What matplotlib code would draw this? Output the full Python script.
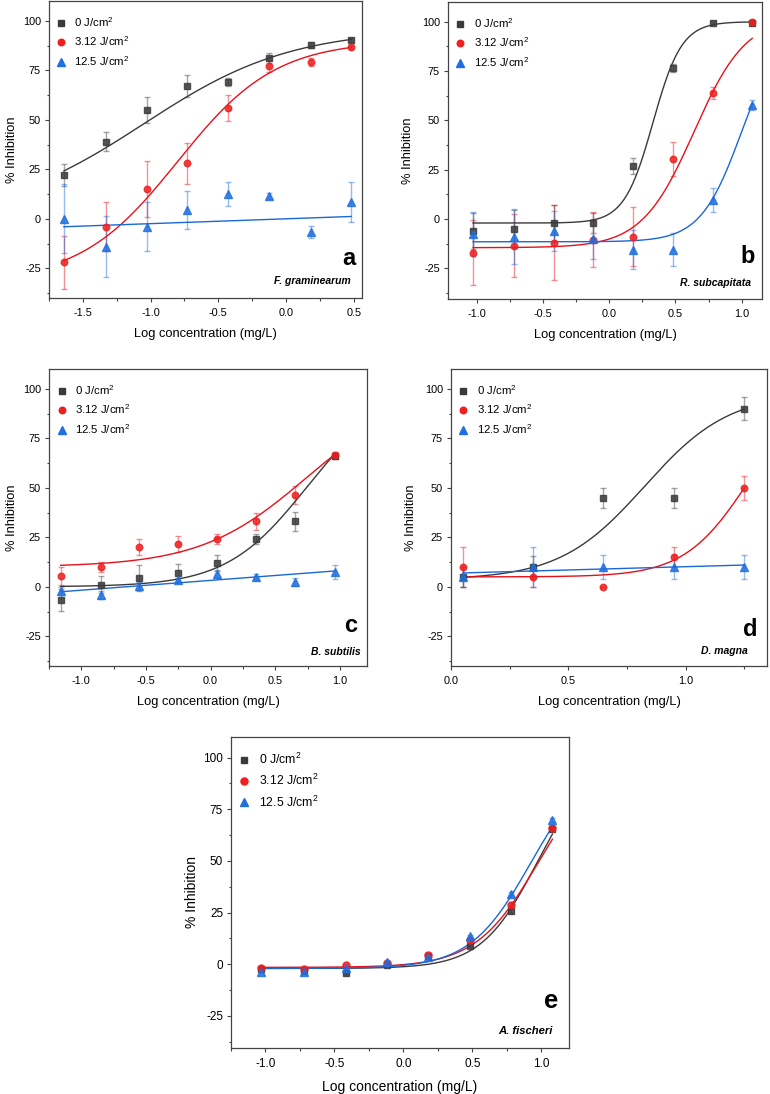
import numpy as np
import matplotlib
matplotlib.use('Agg')
import matplotlib.pyplot as plt
from matplotlib.lines import Line2D
from matplotlib.ticker import MultipleLocator

plt.rcParams['font.family'] = ['Liberation Sans', 'DejaVu Sans']
plt.rcParams['mathtext.default'] = 'regular'

# legend labels / series styles
doses = ['0 J/cm$^2$', '3.12 J/cm$^2$', '12.5 J/cm$^2$']
markers = ['s', 'o', '^']
msizes = [3.9, 4.7, 5.1]
mcolors = ['#3a3a3a', '#ee1f1f', '#1f6fe0']
lcolors = ['#3a3a3a', '#e8101a', '#1a68d8']

# ---- panel a: F. graminearum
x_a = [-1.64, -1.33, -1.03, -0.73, -0.43, -0.13, 0.18, 0.48]
y_a = [[22, 39, 55, 67, 69, 81, 88, 90.5],
       [-22, -4, 15, 28, 56, 77, 79, 87],
       [0, -14, -4, 4.5, 12.5, 11.5, -6.5, 8.5]]
e_a = [[5.5, 5, 6.5, 5.5, 2, 2.5, 1.5, 1],
       [13.5, 12.5, 14, 10.5, 6.5, 3, 2, 1],
       [17.5, 15.5, 12.5, 9.5, 6, 1.5, 3, 10]]
# fitted curves: ('sig', [bottom, top, logEC50, hill]) or ('lin', [intercept, slope])
fit_a = [('sig', [0, 96, -1.05, 0.8]), ('sig', [-32, 90, -0.8, 1.2]), ('lin', [0.0, 2.45])]

# ---- panel b: R. subcapitata
x_b = [-1.03, -0.72, -0.42, -0.12, 0.18, 0.48, 0.78, 1.08]
y_b = [[-6, -5, -2, -2, 27, 76.5, 99.5, 99.5],
       [-17, -13.5, -12, -10.5, -9, 30.5, 64, 100],
       [-7.5, -9, -6, -10, -15.5, -15.5, 9.5, 58]]
e_b = [[9, 9.5, 9, 5, 4, 2, 0.5, 1],
       [16.5, 16, 19, 14, 15, 8.5, 3, 1],
       [11, 14, 10, 10, 10, 8.5, 6, 2.5]]
fit_b = [('sig', [-2, 100, 0.33, 4.0]), ('sig', [-14.5, 103, 0.64, 2.2]), ('sig', [-11.5, 100, 1.0, 2.8])]

# ---- panel c: B. subtilis
x_c = [-1.16, -0.85, -0.55, -0.25, 0.05, 0.35, 0.65, 0.96]
y_c = [[-6.5, 1, 4.5, 7, 12, 24, 33, 66],
       [5.5, 10, 20, 21.5, 24, 33, 46.5, 66.5],
       [-2, -4, 0.5, 3.5, 6.5, 5, 2.5, 7.5]]
e_c = [[5.5, 4.3, 6.5, 4.5, 4, 2.5, 5, 1.5],
       [4.7, 2.5, 4, 4, 2.5, 4.5, 4.5, 1.5],
       [2, 2, 2, 1, 2, 1.5, 2, 3.5]]
fit_c = [('sig', [0, 100, 0.74, 1.4]), ('sig', [10, 100, 0.74, 1.06]), ('lin', [3.24, 4.95])]

# ---- panel d: D. magna
x_d = [0.05, 0.35, 0.65, 0.95, 1.25]
y_d = [[5, 10, 45, 45, 90],
       [10, 5, 0, 15, 50],
       [5, 10, 10, 10, 10]]
e_d = [[5, 5.5, 5, 5, 6],
       [10, 5, 0, 5, 6],
       [5, 10, 6, 6, 6]]
fit_d = [('sig', [3.5, 98, 0.825, 2.4]), ('sig', [5, 100, 1.265, 3.2]), ('lin', [6.83, 3.33])]

# ---- panel e: A. fischeri
x_e = [-1.03, -0.72, -0.42, -0.12, 0.18, 0.48, 0.78, 1.08]
y_e = [[-2.5, -3, -4, -0.5, 4, 9, 26, 65.5],
       [-2, -2.5, -0.5, 0.5, 4.5, 12, 28.5, 66],
       [-3.5, -3.5, -2, 1, 3.5, 13.5, 34, 70]]
e_e = [[0.8, 0.8, 0.8, 0.8, 0.8, 0.8, 1, 1],
       [0.8, 0.8, 0.8, 0.8, 0.8, 0.8, 1, 1],
       [0.8, 0.8, 0.8, 0.8, 0.8, 0.8, 1, 1]]
fit_e = [('sig', [-2, 100, 0.966, 2.15]), ('sig', [-1.5, 100, 0.977, 1.91]), ('sig', [-2, 100, 0.922, 1.98])]

letters = ['a', 'b', 'c', 'd', 'e']
species = ['F. graminearum', 'R. subcapitata', 'B. subtilis', 'D. magna', 'A. fischeri']


def logistic(x, bottom, top, logec50, hill):
    return bottom + (top - bottom) / (1 + 10 ** ((logec50 - x) * hill))


def fit_curve(kind, p, xs):
    if kind == 'sig':
        return logistic(xs, *p)
    return p[0] + p[1] * xs


W, H = 770, 1094


def px_rect(left, top, right, bottom):
    return [left / W, (H - bottom) / H, (right - left) / W, (bottom - top) / H]


def draw_panel(ax, x, ys, errs, fits, xlim, ylim, letter, sp, letter_pos, sp_pos,
               scale=1.0, ylabelpad=7):
    x = np.array(x)
    xs = np.linspace(x[0], x[-1], 300)
    for i in range(3):
        ax.errorbar(x, ys[i], yerr=errs[i], fmt='none', ecolor=lcolors[i], alpha=0.45,
                    elinewidth=1.0, capsize=2, capthick=1.0, zorder=2)
    for i in range(3):
        kind, p = fits[i]
        ax.plot(xs, fit_curve(kind, p, xs), color=lcolors[i], lw=1.0, zorder=3)
    for i in range(3):
        ax.plot(x, ys[i], ls='none', marker=markers[i], ms=msizes[i] * scale,
                color=mcolors[i], mec=mcolors[i], alpha=0.85, zorder=4)
    ax.set_xlim(*xlim)
    ax.set_ylim(*ylim)
    ax.yaxis.set_major_locator(MultipleLocator(25))
    ax.yaxis.set_minor_locator(MultipleLocator(12.5))
    ax.xaxis.set_major_locator(MultipleLocator(0.5))
    ax.xaxis.set_minor_locator(MultipleLocator(0.25))
    ax.tick_params(which='both', direction='out', top=False, right=False,
                   color='#444444', width=0.8)
    ax.tick_params(which='major', length=3.2, labelsize=7.8 * scale)
    ax.tick_params(axis='x', which='major', pad=4)
    ax.tick_params(axis='y', which='major', pad=2.5)
    ax.tick_params(which='minor', length=1.8)
    ax.xaxis.set_major_formatter(plt.FuncFormatter(lambda v, pos: '%.1f' % v))
    ax.yaxis.set_major_formatter(plt.FuncFormatter(lambda v, pos: '%d' % v))
    for s in ax.spines.values():
        s.set_color('#444444')
        s.set_linewidth(0.9)
    ax.set_xlabel('Log concentration (mg/L)', fontsize=9.3 * scale, labelpad=7)
    ax.set_ylabel('% Inhibition', fontsize=9.3 * scale, labelpad=ylabelpad)
    handles = [Line2D([], [], ls='none', marker=markers[i], ms=msizes[i] * scale,
                      color=mcolors[i]) for i in range(3)]
    ax.legend(handles, doses, loc='upper left', bbox_to_anchor=(0.025, 0.953),
              frameon=False, fontsize=8.2 * scale, handlelength=0.8,
              handletextpad=0.75, labelspacing=0.5, borderpad=0, borderaxespad=0)
    ax.text(letter_pos[0], letter_pos[1], letter, transform=ax.transAxes,
            ha='right', va='baseline', fontsize=17 * scale, fontweight='bold')
    ax.text(sp_pos[0], sp_pos[1], sp, transform=ax.transAxes, ha='right',
            va='center', fontsize=7.5 * scale, fontweight='bold', style='italic')


fig = plt.figure(figsize=(7.7, 10.94), dpi=100)

ax_a = fig.add_axes(px_rect(49, 1, 362, 298))
draw_panel(ax_a, x_a, y_a, e_a, fit_a, (-1.75, 0.56), (-40, 110),
           letters[0], species[0], (0.98, 0.111), (0.965, 0.057), ylabelpad=3.5)

ax_b = fig.add_axes(px_rect(448, 2, 762, 299))
draw_panel(ax_b, x_b, y_b, e_b, fit_b, (-1.22, 1.154), (-40.5, 110),
           letters[1], species[1], (0.978, 0.121), (0.965, 0.055), ylabelpad=6)

ax_c = fig.add_axes(px_rect(49, 369, 367, 666))
draw_panel(ax_c, x_c, y_c, e_c, fit_c, (-1.25, 1.21), (-40, 110),
           letters[2], species[2], (0.968, 0.115), (0.981, 0.046), ylabelpad=3.5)

ax_d = fig.add_axes(px_rect(451, 369, 767, 666))
draw_panel(ax_d, x_d, y_d, e_d, fit_d, (0, 1.347), (-40, 110),
           letters[3], species[3], (0.971, 0.1), (0.94, 0.05), ylabelpad=6)

ax_e = fig.add_axes(px_rect(231, 737, 569, 1048))
draw_panel(ax_e, x_e, y_e, e_e, fit_e, (-1.25, 1.2), (-40.5, 110),
           letters[4], species[4], (0.967, 0.13), (0.952, 0.055), scale=1.08, ylabelpad=3)

fig.savefig('out.png', dpi=100)
